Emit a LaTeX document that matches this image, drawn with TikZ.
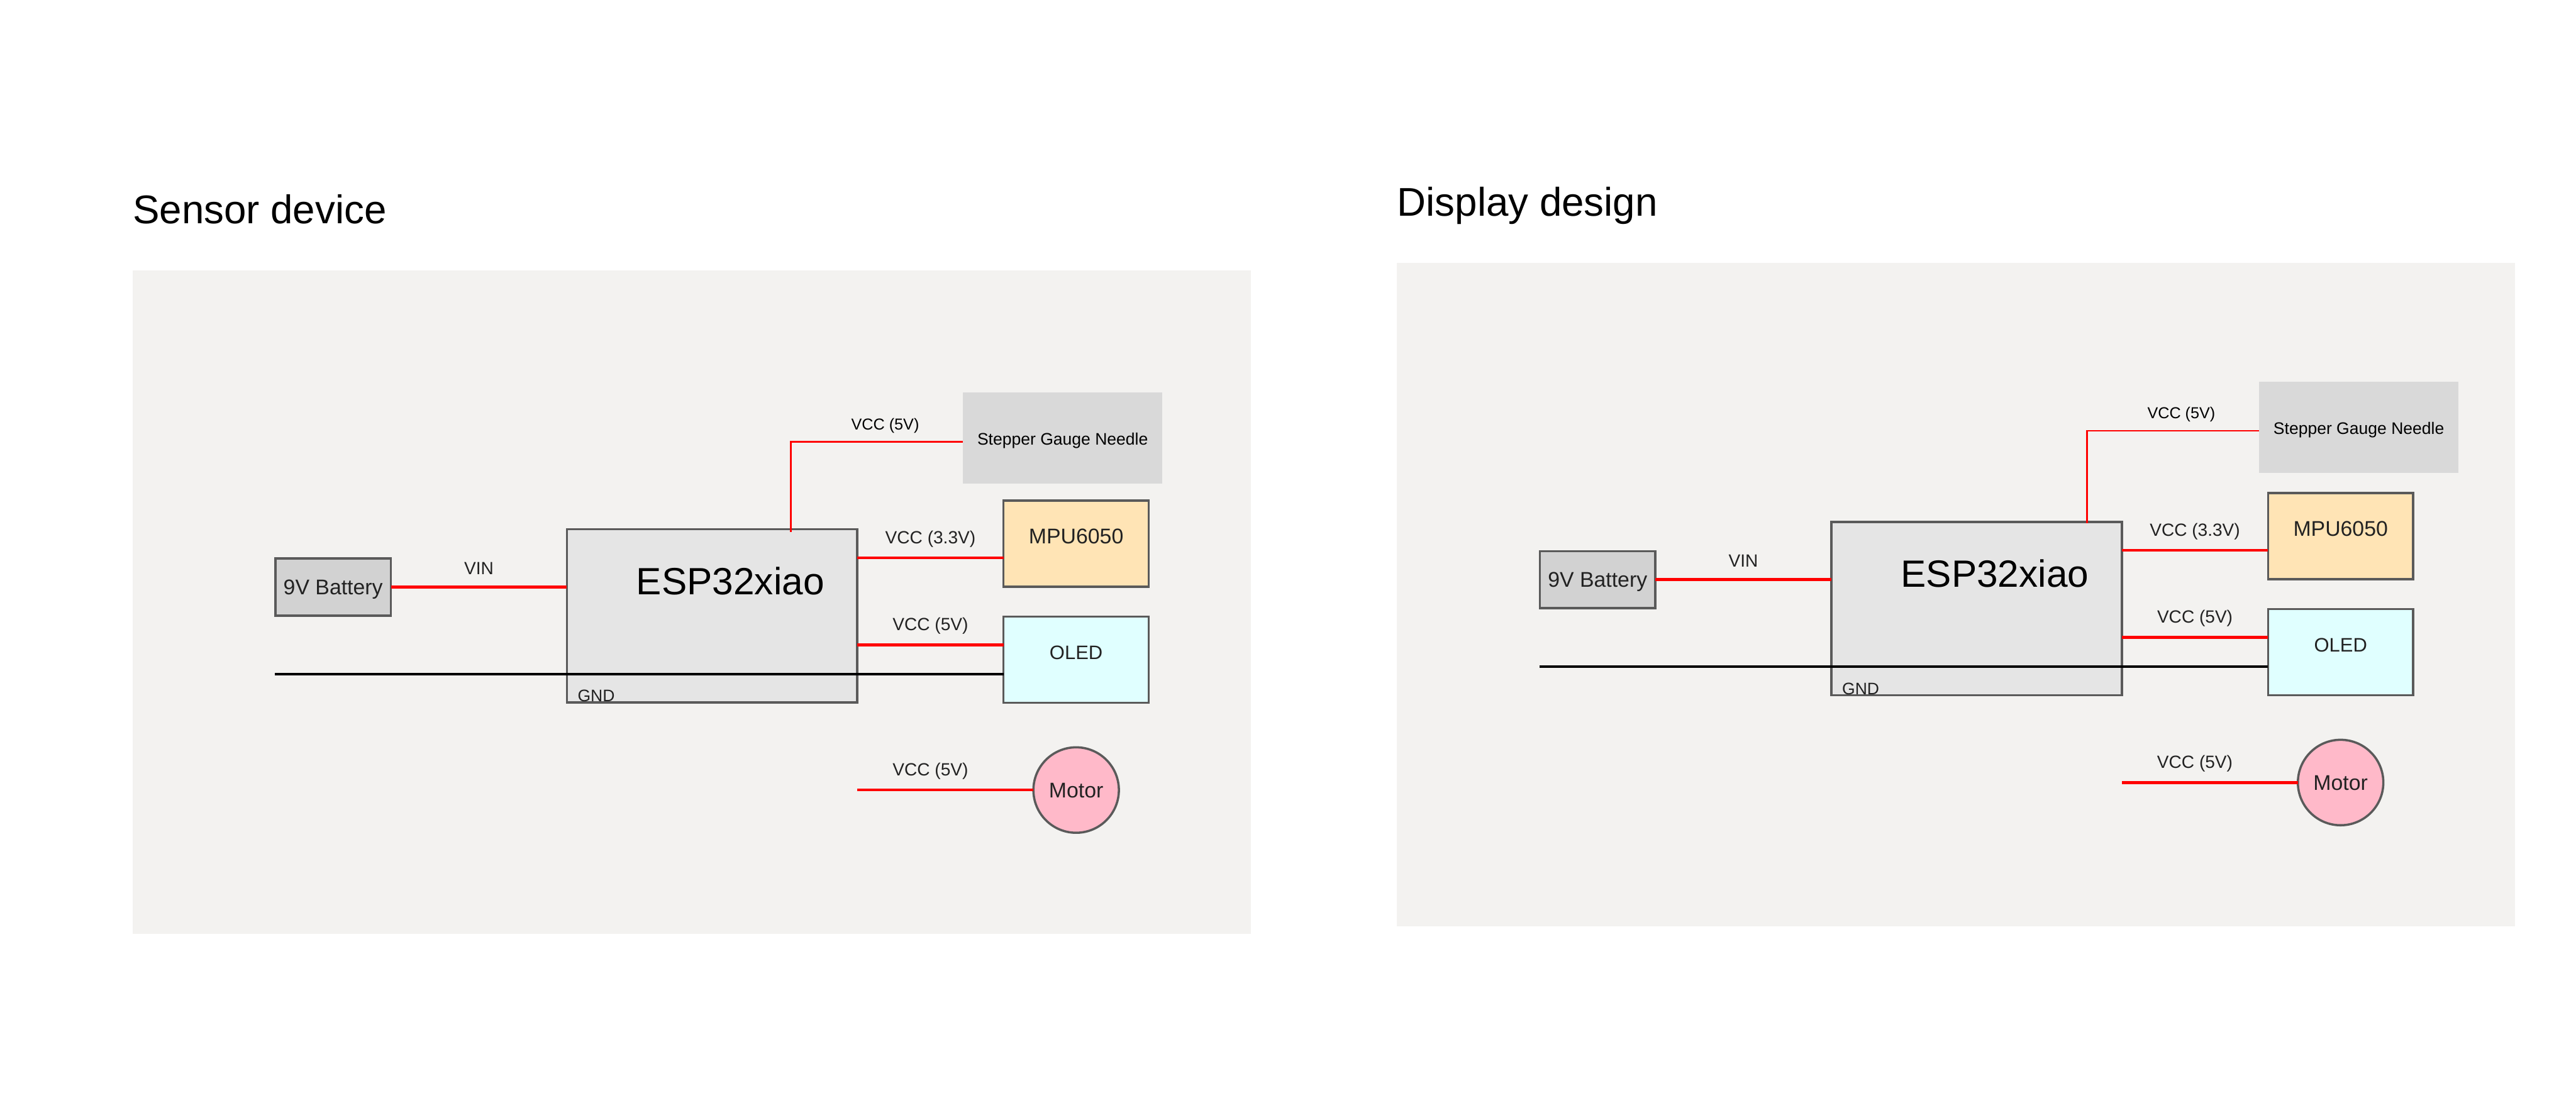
\documentclass[tikz,border=0pt]{standalone}
\usepackage{fontspec}
\usepackage{xcolor}
\usetikzlibrary{positioning}
\setmainfont{Liberation Sans}
\definecolor{panelbg}{HTML}{F3F2F0}
\definecolor{edge}{HTML}{5A5A5A}
\definecolor{blurtext}{HTML}{222222}
\definecolor{wirered}{HTML}{FF0000}
\definecolor{mpufill}{HTML}{FFE4B5}
\definecolor{oledfill}{HTML}{E0FFFF}
\definecolor{motorfill}{HTML}{FFB9C9}
\tikzset{
    panelbox/.style={rectangle, fill=panelbg, inner sep=0, outer sep=0, minimum width=28.26cm, minimum height=16.77cm},
    partbox/.style={rectangle, draw=edge, line width=1.6pt, inner sep=0, outer sep=0, text=blurtext, text height=.39cm, text depth=0cm, font=\fontsize{15.3}{18}\selectfont},
    stepperbox/.style={rectangle, fill=black!15, inner sep=0, outer sep=0, minimum width=5.04cm, minimum height=2.3cm, text height=.34cm, text depth=0cm, font=\fontsize{12}{14}\selectfont},
    espbox/.style={partbox, fill=black!10, minimum width=7.34cm, minimum height=4.38cm},
    batterybox/.style={partbox, fill=black!17.5, minimum width=2.92cm, minimum height=1.44cm},
    mpubox/.style={partbox, fill=mpufill, minimum width=3.67cm, minimum height=2.18cm},
    oledbox/.style={partbox, fill=oledfill, minimum width=3.67cm, minimum height=2.18cm},
    motorbox/.style={partbox, circle, fill=motorfill, minimum size=2.16cm},
    caption/.style={inner sep=0, font=\fontsize{28.8}{34}\selectfont},
    esptext/.style={inner sep=0, font=\fontsize{27.3}{32}\selectfont},
    parttext/.style={inner sep=0, text=blurtext, font=\fontsize{15.3}{18}\selectfont},
    wirelabel/.style={inner sep=0, text=blurtext, font=\fontsize{12.7}{15}\selectfont, yshift=.48cm},
    wire/.style={draw=wirered, line width=2pt},
    thinwire/.style={draw=wirered, line width=1.15pt},
    gndwire/.style={draw=black, line width=2pt}
}

\begin{document}
\begin{tikzpicture}[node distance=1.5cm]
    \useasboundingbox[fill=white] (0,0) rectangle (65.11,28.17);

    % sensor device
    \node[caption, anchor=base west] (sensortitle) at (3.35,22.52) {Sensor device};
    \node[panelbox] (sensorpanel) at (17.48,12.955) {};

    \node[espbox] (esp) at (18.00,12.60) {};
    \node[esptext] (esptitle) at ([xshift=.46cm,yshift=.89cm]esp.center) {ESP32xiao};
    \node[parttext, font=\fontsize{12}{14}\selectfont, anchor=base] (gnd) at ([xshift=.74cm,yshift=.02cm]esp.south west) {GND};
    \node[batterybox] (battery) at (8.42,13.33) {9V Battery};
    \node[stepperbox] (stepper) at (26.86,17.10) {Stepper Gauge Needle};
    \node[mpubox] (mpu) at (27.20,14.43) {};
    \node[parttext, node distance=.18cm, above of=mpu] (mputitle) {MPU6050};
    \node[oledbox, node distance=2.935cm, below of=mpu] (oled) {};
    \node[parttext, node distance=.18cm, above of=oled, font=\fontsize{14}{17}\selectfont] (oledtitle) {OLED};
    \node[motorbox, node distance=3.295cm, below of=oled] (motor) {Motor};
    \coordinate (gndstart) at (6.95,11.13);
    \coordinate (esptap) at ([xshift=1.99cm,yshift=-.07cm]esp.north);

    \draw[wire] (battery.east) -- node[wirelabel, midway] (vin) {VIN} (battery.east -| esp.west);
    \draw[wire] ([yshift=-.36cm]mpu.west) -- node[wirelabel, midway] (mpuvcc) {VCC (3.3V)} ([yshift=-.36cm]mpu.west -| esp.east);
    \draw[wire] ([yshift=.375cm]oled.west) -- node[wirelabel, midway] (oledvcc) {VCC (5V)} ([yshift=.375cm]oled.west -| esp.east);
    \draw[wire] (motor.west) -- node[wirelabel, pos=.585] (motorvcc) {VCC (5V)} (motor.west -| esp.east);
    \draw[gndwire] (gndstart) -- (gndstart -| oled.west);
    \draw[thinwire] ([yshift=-.10cm]stepper.west) -| node[pos=.226, inner sep=0, yshift=.41cm, font=\fontsize{11.4}{14}\selectfont] (steppervcc) {VCC (5V)} (esptap);

    % display design
    \node[caption, anchor=base west] (displaytitle) at (35.31,22.71) {Display design};
    \node[panelbox] (displaypanel) at (49.44,13.145) {};

    \node[espbox] (esp2) at (49.96,12.79) {};
    \node[esptext] (esptitle2) at ([xshift=.46cm,yshift=.89cm]esp2.center) {ESP32xiao};
    \node[parttext, font=\fontsize{12}{14}\selectfont, anchor=base] (gnd2) at ([xshift=.74cm,yshift=.02cm]esp2.south west) {GND};
    \node[batterybox] (battery2) at (40.38,13.52) {9V Battery};
    \node[stepperbox] (stepper2) at (59.62,17.37) {Stepper Gauge Needle};
    \node[mpubox] (mpu2) at (59.16,14.62) {};
    \node[parttext, node distance=.18cm, above of=mpu2] (mputitle2) {MPU6050};
    \node[oledbox, node distance=2.935cm, below of=mpu2] (oled2) {};
    \node[parttext, node distance=.18cm, above of=oled2, font=\fontsize{14}{17}\selectfont] (oledtitle2) {OLED};
    \node[motorbox, node distance=3.295cm, below of=oled2] (motor2) {Motor};
    \coordinate (gndstart2) at (38.91,11.32);
    \coordinate (esptap2) at ([xshift=2.79cm,yshift=-.03cm]esp2.north);

    \draw[wire] (battery2.east) -- node[wirelabel, midway] (vin2) {VIN} (battery2.east -| esp2.west);
    \draw[wire] ([yshift=-.36cm]mpu2.west) -- node[wirelabel, midway] (mpuvcc2) {VCC (3.3V)} ([yshift=-.36cm]mpu2.west -| esp2.east);
    \draw[wire] ([yshift=.375cm]oled2.west) -- node[wirelabel, midway] (oledvcc2) {VCC (5V)} ([yshift=.375cm]oled2.west -| esp2.east);
    \draw[wire] (motor2.west) -- node[wirelabel, pos=.585] (motorvcc2) {VCC (5V)} (motor2.west -| esp2.east);
    \draw[gndwire] (gndstart2) -- (gndstart2 -| oled2.west);
    \draw[thinwire] ([yshift=-.09cm]stepper2.west) -| node[pos=.226, inner sep=0, yshift=.41cm, font=\fontsize{11.4}{14}\selectfont] (steppervcc2) {VCC (5V)} (esptap2);
\end{tikzpicture}
\end{document}
